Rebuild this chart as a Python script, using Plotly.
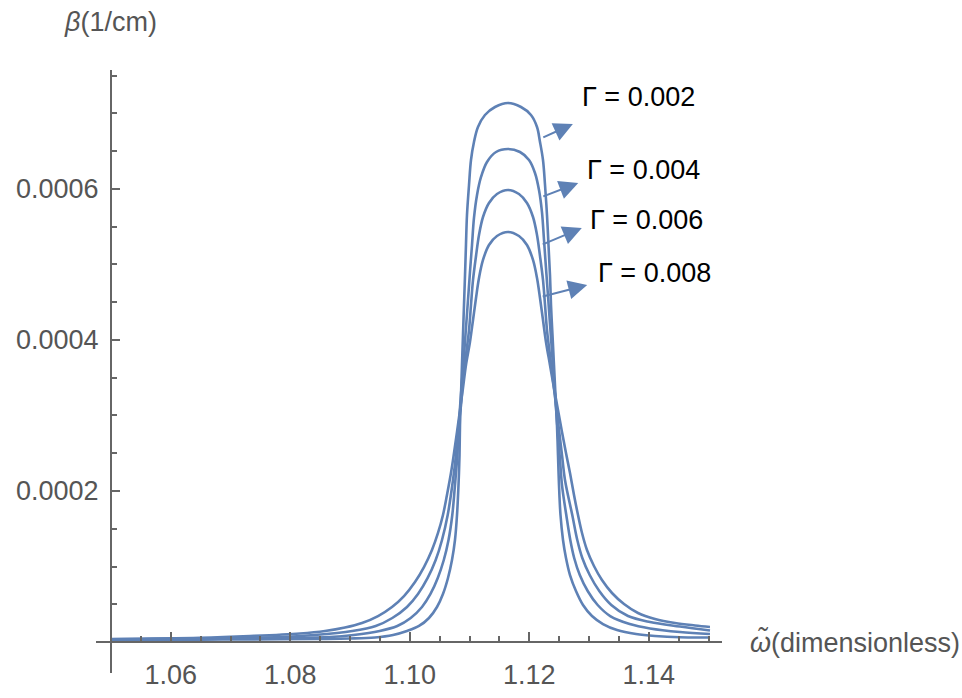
import plotly.graph_objects as go

# ---------------- data ----------------
gamma_labels = ["Γ = 0.002", "Γ = 0.004", "Γ = 0.006", "Γ = 0.008"]

# omega (dimensionless) and beta in units of 1e-4 (1/cm)
omega_g002 = [1.05000, 1.06490, 1.07828, 1.08498, 1.09000, 1.09418, 1.09720, 1.09954, 1.10155, 1.10322,
              1.10456, 1.10556, 1.10640, 1.10707, 1.10757, 1.10791, 1.10816, 1.10833, 1.10841, 1.10858,
              1.10874, 1.10891, 1.10908, 1.10925, 1.10941, 1.10958, 1.10992, 1.11025, 1.11075, 1.11142,
              1.11259, 1.11427, 1.11644,
              1.11862, 1.12029, 1.12130, 1.12180, 1.12230, 1.12264, 1.12297, 1.12322, 1.12347, 1.12364,
              1.12389, 1.12414, 1.12439, 1.12464, 1.12481, 1.12498, 1.12523, 1.12565, 1.12615, 1.12682,
              1.12782, 1.12900, 1.13050, 1.13234, 1.13469, 1.13787, 1.14105, 1.14523, 1.15025]
beta_g002 = [0.026, 0.032, 0.036, 0.040, 0.046, 0.060, 0.093, 0.146, 0.212, 0.318,
             0.464, 0.636, 0.848, 1.086, 1.351, 1.682, 2.079, 2.477, 2.874, 3.272,
             3.669, 4.066, 4.464, 4.861, 5.258, 5.656, 6.053, 6.384, 6.623, 6.821,
             6.980, 7.086, 7.139,
             7.086, 6.980, 6.821, 6.623, 6.384, 6.053, 5.656, 5.258, 4.861, 4.464,
             4.066, 3.669, 3.272, 2.874, 2.477, 2.079, 1.682, 1.351, 1.113, 0.887,
             0.675, 0.490, 0.344, 0.238, 0.159, 0.106, 0.079, 0.062, 0.060]

omega_g004 = [1.05000, 1.06490, 1.07828, 1.08665, 1.09062, 1.09497, 1.09792, 1.10016, 1.10205, 1.10347,
              1.10469, 1.10570, 1.10649, 1.10712, 1.10757, 1.10791, 1.10816, 1.10841, 1.10874, 1.10908,
              1.10941, 1.10975, 1.11008, 1.11042, 1.11075, 1.11126, 1.11193, 1.11293, 1.11444, 1.11644,
              1.11845, 1.11996, 1.12096, 1.12163, 1.12213, 1.12247, 1.12280, 1.12314, 1.12347, 1.12381,
              1.12414, 1.12448, 1.12481, 1.12515, 1.12548, 1.12620, 1.12687, 1.12752, 1.12846, 1.12978,
              1.13145, 1.13355, 1.13681, 1.14021, 1.14523, 1.15025]
beta_g004 = [0.033, 0.042, 0.053, 0.066, 0.093, 0.146, 0.212, 0.318, 0.464, 0.636,
             0.848, 1.086, 1.351, 1.682, 2.079, 2.411, 2.742, 3.099, 3.444, 3.801,
             4.159, 4.530, 4.901, 5.258, 5.616, 5.921, 6.159, 6.358, 6.490, 6.530,
             6.490, 6.384, 6.212, 5.987, 5.695, 5.325, 4.954, 4.583, 4.212, 3.841,
             3.470, 3.099, 2.742, 2.411, 2.079, 1.682, 1.351, 1.113, 0.887, 0.675,
             0.490, 0.344, 0.238, 0.179, 0.132, 0.106]

omega_g006 = [1.05000, 1.06490, 1.07828, 1.08402, 1.09038, 1.09430, 1.09708, 1.09954, 1.10138, 1.10300,
              1.10434, 1.10540, 1.10635, 1.10724, 1.10774, 1.10808, 1.10858, 1.10891, 1.10941, 1.10992,
              1.11025, 1.11059, 1.11109, 1.11159, 1.11226, 1.11326, 1.11460, 1.11644,
              1.11828, 1.11962, 1.12063, 1.12130, 1.12180, 1.12230, 1.12264, 1.12297, 1.12347, 1.12397,
              1.12448, 1.12498, 1.12548, 1.12598, 1.12720, 1.12804, 1.12888, 1.13012, 1.13172, 1.13373,
              1.13653, 1.14021, 1.14523, 1.15025]
beta_g006 = [0.037, 0.049, 0.066, 0.093, 0.146, 0.212, 0.318, 0.464, 0.636, 0.848,
             1.086, 1.351, 1.682, 2.146, 2.477, 2.808, 3.139, 3.470, 3.801, 4.132,
             4.464, 4.795, 5.113, 5.391, 5.629, 5.815, 5.934, 5.987,
             5.934, 5.815, 5.629, 5.391, 5.113, 4.795, 4.464, 4.132, 3.801, 3.470,
             3.139, 2.808, 2.477, 2.146, 1.682, 1.351, 1.113, 0.887, 0.675, 0.490,
             0.344, 0.265, 0.205, 0.152]

omega_g008 = [1.05000, 1.06490, 1.07326, 1.08163, 1.08582, 1.08916, 1.09201, 1.09469, 1.09703, 1.09904,
              1.10088, 1.10238, 1.10372, 1.10473, 1.10556, 1.10623, 1.10690, 1.10741, 1.10791, 1.10841,
              1.10891, 1.10941, 1.11008, 1.11059, 1.11109, 1.11159, 1.11226, 1.11326, 1.11460, 1.11644,
              1.11828, 1.11962, 1.12063, 1.12130, 1.12180, 1.12230, 1.12280, 1.12347, 1.12414, 1.12481,
              1.12548, 1.12615, 1.12682, 1.12749, 1.12816, 1.12883, 1.12966, 1.13083, 1.13217, 1.13385,
              1.13586, 1.13820, 1.14105, 1.14439, 1.14774, 1.15025]
beta_g008 = [0.040, 0.056, 0.079, 0.113, 0.146, 0.192, 0.252, 0.344, 0.464, 0.609,
             0.795, 0.993, 1.219, 1.444, 1.682, 1.947, 2.238, 2.503, 2.781, 3.073,
             3.364, 3.669, 3.974, 4.265, 4.556, 4.821, 5.060, 5.258, 5.377, 5.430,
             5.377, 5.258, 5.060, 4.821, 4.556, 4.265, 3.974, 3.669, 3.364, 3.073,
             2.781, 2.503, 2.238, 1.947, 1.682, 1.444, 1.219, 1.007, 0.821, 0.649,
             0.503, 0.384, 0.305, 0.252, 0.219, 0.199]

# callout arrows: start on curve -> tip near label (omega, beta*1e4)
arrow_start_omega = [1.1221, 1.1221, 1.1220, 1.1220]
arrow_start_beta = [6.675, 5.894, 5.258, 4.570]
arrow_tip_omega = [1.1273, 1.1282, 1.1288, 1.1297]
arrow_tip_beta = [6.861, 6.079, 5.483, 4.728]
label_omega = [1.1285, 1.1293, 1.1298, 1.1312]
label_beta = [7.219, 6.252, 5.589, 4.887]

x_tick_vals = [1.06, 1.08, 1.10, 1.12, 1.14]
x_tick_text = ["1.06", "1.08", "1.10", "1.12", "1.14"]
y_tick_vals = [0.0002, 0.0004, 0.0006]
y_tick_text = ["0.0002", "0.0004", "0.0006"]

SCALE = 1e-4
LINE = "#5E81B5"
AXIS = "#666666"
TXT = "#555555"
FONT = "Liberation Sans, Arial, sans-serif"
FS = 27

series = [(omega_g002, beta_g002), (omega_g004, beta_g004),
          (omega_g006, beta_g006), (omega_g008, beta_g008)]

fig = go.Figure()
for (xs, ys), name in zip(series, gamma_labels):
    fig.add_trace(go.Scatter(
        x=xs, y=[v * SCALE for v in ys], mode="lines", name=name,
        line=dict(color=LINE, width=2.6, shape="spline", smoothing=1.0),
        showlegend=False, hoverinfo="skip", cliponaxis=False))

for i, lab in enumerate(gamma_labels):
    fig.add_annotation(
        x=arrow_tip_omega[i], y=arrow_tip_beta[i] * SCALE,
        ax=arrow_start_omega[i], ay=arrow_start_beta[i] * SCALE,
        xref="x", yref="y", axref="x", ayref="y",
        text="", showarrow=True, arrowhead=2, arrowsize=1.9, arrowwidth=2,
        arrowcolor=LINE, standoff=0, startstandoff=0)
    fig.add_annotation(
        x=label_omega[i], y=label_beta[i] * SCALE, xref="x", yref="y",
        text=lab, showarrow=False, xanchor="left", yanchor="middle",
        font=dict(family=FONT, size=FS, color="#000000"))

# axis titles
fig.add_annotation(x=-0.054, y=1.08, xref="paper", yref="paper",
                   text="<i>β</i>(1/cm)", showarrow=False,
                   xanchor="left", yanchor="middle",
                   font=dict(family=FONT, size=FS, color=TXT))
fig.add_annotation(x=1.0415, y=0.0, xref="paper", yref="y",
                   text="<i>ω\u0303</i>(dimensionless)", showarrow=False,
                   xanchor="left", yanchor="middle",
                   font=dict(family=FONT, size=FS, color=TXT))

fig.update_layout(
    width=962, height=698,
    margin=dict(l=96, r=240, t=70, b=25, autoexpand=False),
    paper_bgcolor="white", plot_bgcolor="white",
    showlegend=False,
    xaxis=dict(
        range=[1.04749, 1.15226], anchor="free", position=0.0514,
        automargin=False,
        showline=True, linecolor=AXIS, linewidth=2.2,
        showgrid=False, zeroline=False,
        tickmode="array", tickvals=x_tick_vals, ticktext=x_tick_text,
        ticks="inside", ticklen=9, tickwidth=2, tickcolor=AXIS,
        ticklabelstandoff=8,
        tickfont=dict(family=FONT, size=FS, color=TXT),
        minor=dict(ticks="inside", ticklen=5, tickwidth=2, tickcolor=AXIS,
                   dtick=0.005, tick0=1.0, showgrid=False),
    ),
    yaxis=dict(
        range=[-4.106e-5, 7.576e-4], anchor="free", position=0.024,
        automargin=False,
        showline=True, linecolor=AXIS, linewidth=2.2,
        showgrid=False, zeroline=False,
        tickmode="array", tickvals=y_tick_vals, ticktext=y_tick_text,
        ticks="inside", ticklen=8, tickwidth=2, tickcolor=AXIS,
        ticklabelstandoff=6,
        tickfont=dict(family=FONT, size=FS, color=TXT),
        minor=dict(ticks="inside", ticklen=5, tickwidth=2, tickcolor=AXIS,
                   dtick=0.00005, tick0=0, showgrid=False),
    ),
)

fig.write_html("out.html")
